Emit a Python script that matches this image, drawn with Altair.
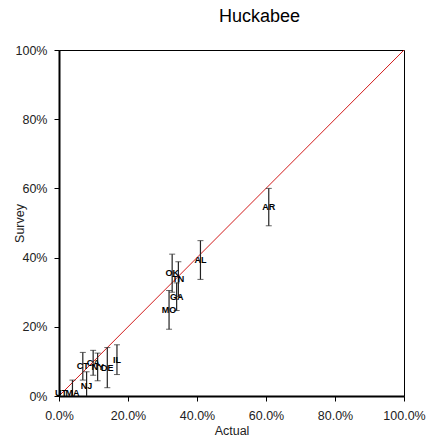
import altair as alt
import pandas as pd

states = ["AR", "AL", "OK", "TN", "GA", "MO", "IL", "DE", "NY", "CA", "CT", "NJ", "MA", "UT"]
actual = [60.8, 41.0, 32.8, 34.6, 34.1, 31.9, 16.8, 14.0, 11.2, 9.9, 6.9, 8.0, 3.9, 0.6]
survey = [54.6, 39.3, 35.5, 33.8, 28.7, 24.9, 10.5, 8.2, 8.4, 9.6, 8.6, 3.0, 0.8, 1.0]
err = [5.4, 5.6, 5.5, 5.0, 4.0, 5.6, 4.3, 5.8, 4.0, 3.6, 4.0, 4.0, 3.8, 0.0]

df = pd.DataFrame({
    "state": states,
    "actual": [a / 100 for a in actual],
    "survey": [s / 100 for s in survey],
    "lo": [max(0.0, s - e) / 100 for s, e in zip(survey, err)],
    "hi": [(s + e) / 100 for s, e in zip(survey, err)],
    "e": err,
})
eb = df[df["e"] > 0]

ticks = [i / 10 for i in range(11)]
font = "Liberation Sans"

xs = alt.Scale(domain=[0, 1], nice=False)
ys = alt.Scale(domain=[0, 1], nice=False)

xax = alt.Axis(values=ticks, format=".1%",
               labelExpr="round(datum.value*10) % 2 == 0 ? datum.label : ''",
               grid=False, title="Actual", labelFlush=False,
               labelPadding=8, titlePadding=3)
yax = alt.Axis(values=ticks, format=".0%",
               labelExpr="round(datum.value*10) % 2 == 0 ? datum.label : ''",
               grid=False, title="Survey", labelFlush=False,
               labelPadding=7, titleX=-33)

diag = pd.DataFrame({"a": [0.0, 1.0], "b": [0.0, 1.0]})
line = alt.Chart(diag).mark_line(color="#cc0000", strokeWidth=0.9, clip=True).encode(
    x=alt.X("a:Q", scale=xs, axis=xax),
    y=alt.Y("b:Q", scale=ys, axis=yax),
)

bars = alt.Chart(eb).mark_rule(color="#222222", strokeWidth=1.2).encode(
    x=alt.X("actual:Q", scale=xs),
    y=alt.Y("lo:Q", scale=ys),
    y2="hi:Q",
)
cap_hi = alt.Chart(eb).mark_tick(orient="horizontal", size=6, thickness=1, color="#222222").encode(
    x=alt.X("actual:Q", scale=xs),
    y=alt.Y("hi:Q", scale=ys),
)
cap_lo = alt.Chart(eb[eb["lo"] > 0]).mark_tick(orient="horizontal", size=6, thickness=1, color="#222222").encode(
    x=alt.X("actual:Q", scale=xs),
    y=alt.Y("lo:Q", scale=ys),
)
labels = alt.Chart(df).mark_text(font=font, fontSize=9, fontWeight="bold", color="black").encode(
    x=alt.X("actual:Q", scale=xs),
    y=alt.Y("survey:Q", scale=ys),
    text="state:N",
)

chart = alt.layer(line, bars, cap_hi, cap_lo, labels).properties(
    width=345, height=346,
    title=alt.TitleParams("Huckabee", font=font, fontSize=18, fontWeight="normal",
                          anchor="middle", offset=18, dx=28, color="black"),
    autosize=alt.AutoSizeParams(type="none"),
    padding={"left": 59, "top": 50, "right": 29, "bottom": 48},
).configure_view(
    stroke="black", strokeWidth=1
).configure_axis(
    domainColor="black", domainWidth=2, tickColor="black", tickSize=5,
    labelFont=font, labelFontSize=12.5, labelColor="#222222",
    titleFont=font, titleFontSize=12.5, titleFontWeight="normal", titleColor="#222222",
)

chart.save("out.html", embed_options={"renderer": "svg", "actions": False})
